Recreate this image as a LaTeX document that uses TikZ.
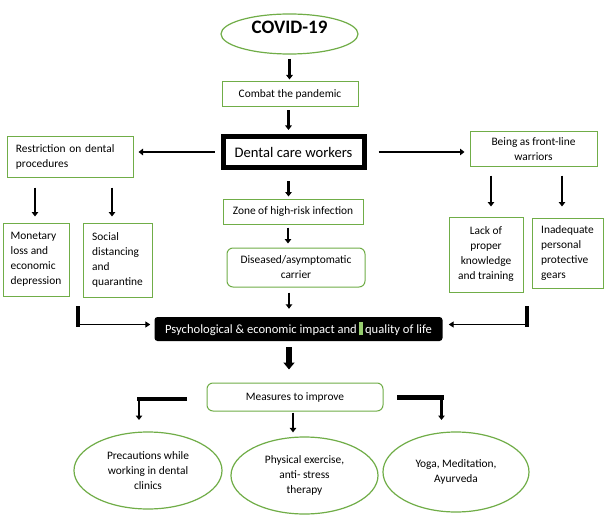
\documentclass[tikz,border=0pt]{standalone}
\usepackage{fontspec}
\setmainfont{Carlito}
\usetikzlibrary{arrows.meta,shapes.geometric}
\definecolor{gbox}{RGB}{112,173,71}
\definecolor{gart}{RGB}{150,205,110}
\newcommand\bodyfs{\fontsize{11.4}{15}\selectfont}
\begin{document}
\begin{tikzpicture}[x=1pt,y=-1pt,
  box/.style={draw=gbox,line width=1pt,inner sep=0pt,font=\bodyfs,align=left},
  ell/.style={ellipse,draw=gbox,line width=1.2pt,inner sep=0pt,font=\bodyfs,align=center},
  arr/.style={line width=2.6pt,-{Triangle[width=6.5pt,length=4.5pt]}},
  thinarr/.style={line width=1.8pt,-{Triangle[width=6pt,length=5pt]}},
  bigarr/.style={line width=5.5pt,-{Triangle[width=11pt,length=7pt]}},
  bar/.style={line width=4pt}
]
\path[use as bounding box,fill=white] (0,0) rectangle (605,516);

% nodes
\node[ell,minimum width=137pt,minimum height=40pt] (covid) at (289.5,34) {};
\node[font=\bfseries\fontsize{19}{22}\selectfont] (covidt) at (289.5,27) {COVID-19};
\node[box,align=center,minimum width=136pt,minimum height=25pt] (combat) at (290,94.5) {Combat the pandemic};
\node[draw=black,line width=5pt,inner sep=0pt,minimum width=141pt,minimum height=31pt,font=\fontsize{14.6}{17}\selectfont] (dcw) at (293.5,152) {Dental care workers};
\node[box,minimum width=140pt,minimum height=25pt] (zone) at (293,211.5) {Zone of high-risk infection};
\node[box,rounded corners=6pt,align=center,minimum width=138pt,minimum height=39pt] (dis) at (296,267.5) {Diseased/asymptomatic\\carrier};
\node[fill=black,rounded corners=3pt,inner sep=0pt,minimum width=288pt,minimum height=24pt,text=white,font=\fontsize{12.6}{15}\selectfont] (psych) at (298.5,329) {Psychological \& economic impact and\,\textcolor{gart}{\rule[-2pt]{4pt}{13pt}}\,quality of life};

\node[box,text width=108pt,inner xsep=9pt,minimum height=40pt] (restr) at (70,157) {Restriction on dental\\procedures};
\node[box,minimum width=66pt,minimum height=73pt] (money) at (36,259.5) {Monetary\\loss and\\economic\\depression};
\node[box,minimum width=69pt,minimum height=74pt] (social) at (117.5,260) {Social\\distancing\\and\\quarantine};

\node[box,align=center,minimum width=127pt,minimum height=34pt] (being) at (533.5,149) {Being as front-line\\warriors};
\node[box,align=center,minimum width=74pt,minimum height=75pt] (lack) at (486,254.5) {Lack of\\proper\\knowledge\\and training};
\node[box,minimum width=71pt,minimum height=70pt] (inad) at (567.5,253) {Inadequate\\personal\\protective\\gears};

\node[box,rounded corners=6pt,minimum width=176pt,minimum height=28pt] (meas) at (295,397) {Measures to improve};
\node[ell,minimum width=148pt,minimum height=77pt] (prec) at (148,470.5) {Precautions while\\working in dental\\clinics};
\node[ell,minimum width=147pt,minimum height=77pt] (phys) at (304.5,475.5) {Physical exercise,\\anti- stress\\therapy};
\node[ell,minimum width=146pt,minimum height=80pt] (yoga) at (456,472) {Yoga, Meditation,\\Ayurveda};

% central chain
\draw[arr,shorten <=4pt,shorten >=2pt] (covid.south) -- (covid.south |- combat.north);
\coordinate (cd) at ([xshift=-1.5pt]combat.south);
\draw[arr,shorten <=3pt,shorten >=4pt] (cd) -- (cd |- dcw.north);
\coordinate (dz) at ([xshift=-5pt]dcw.south);
\draw[arr,shorten <=11pt,shorten >=2pt] (dz) -- (dz |- zone.north);
\coordinate (zd) at ([xshift=-5pt]zone.south);
\draw[arr,shorten <=3pt,shorten >=4pt] (zd) -- (zd |- dis.north);
\coordinate (dp) at ([xshift=-7pt]dis.south);
\draw[arr,shorten <=5pt,shorten >=8pt] (dp) -- (dp |- psych.north);

% sides of dental care workers
\draw[arr,shorten <=6pt,shorten >=5pt] (dcw.west) -- (dcw.west -| restr.east);
\draw[arr,shorten <=12pt,shorten >=5pt] (dcw.east) -- (dcw.east -| being.west);

% left branch
\coordinate (rm) at ([xshift=-1pt]money.north);
\draw[arr,shorten <=10pt,shorten >=6pt] (rm |- restr.south) -- (rm);
\coordinate (rs) at ([xshift=-5.5pt]social.north);
\draw[arr,shorten <=10pt,shorten >=6pt] (rs |- restr.south) -- (rs);

% right branch
\coordinate (bl) at ([xshift=5pt]lack.north);
\draw[arr,shorten <=9pt,shorten >=10pt] (bl |- being.south) -- (bl);
\coordinate (bi) at ([xshift=-5.5pt]inad.north);
\draw[arr,shorten <=9pt,shorten >=11pt] (bi |- being.south) -- (bi);

% elbows into psych
\coordinate (lt) at (78,306);
\coordinate (lb) at (78,326.5);
\coordinate (lh) at (76,324.5);
\draw[bar] (lt) -- (lb);
\draw[thinarr,shorten >=4pt] (lh) -- (lh -| psych.west);
\coordinate (rt) at (527,306);
\coordinate (rb) at (527,326.5);
\coordinate (rh) at (529,324.5);
\draw[bar] (rt) -- (rb);
\draw[thinarr,shorten >=6pt] (rh) -- (rh -| psych.east);

% psych to measures
\coordinate (pm) at ([xshift=-9.5pt]psych.south);
\draw[bigarr,shorten <=6pt,shorten >=13pt] (pm) -- (pm |- meas.north);

% measures to outcomes
\coordinate (ml) at (187,399);
\coordinate (mlc) at (137,399);
\coordinate (pl) at (139,420);
\draw[line width=4.3pt] (ml) -- (mlc);
\draw[arr] (pl |- ml) -- (pl);
\coordinate (mr) at (397,397);
\coordinate (mrc) at (444,397);
\coordinate (pr) at (441.5,420);
\draw[line width=5pt] (mr) -- (mrc);
\draw[arr] (pr |- mr) -- (pr);
\coordinate (mp) at ([xshift=-2pt]meas.south);
\draw[arr,shorten <=1pt,shorten >=4pt] (mp) -- (mp |- phys.north);
\end{tikzpicture}
\end{document}
